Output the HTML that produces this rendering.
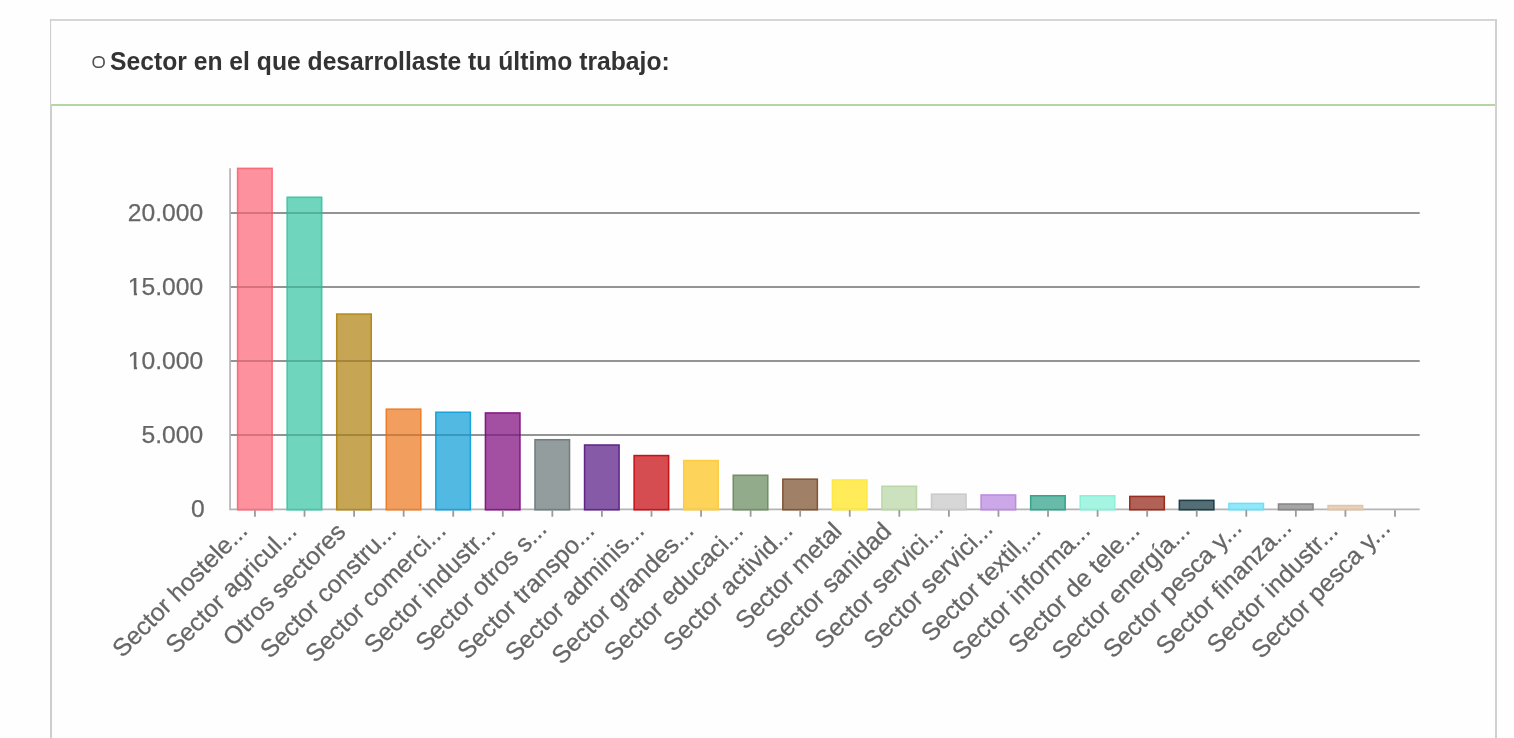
<!DOCTYPE html>
<html lang="es">
<head>
<meta charset="utf-8">
<title>Sector en el que desarrollaste tu último trabajo</title>
<style>
html,body{margin:0;padding:0;background:#fefefe;}
body{width:1514px;height:738px;overflow:hidden;position:relative;font-family:"Liberation Sans",sans-serif;}
svg{position:absolute;left:0;top:0;display:block;}
.t{font-family:"Liberation Sans",sans-serif;}
</style>
</head>
<body>
<svg width="1514" height="738" viewBox="0 0 1514 738" role="img" aria-label="Sector en el que desarrollaste tu último trabajo">
<g id="panel" fill="#cecece">
<rect x="50" y="19.15" width="1447" height="1.65"/>
<rect x="50" y="19.15" width="1.1" height="86.85"/>
<rect x="50" y="106" width="2.05" height="640"/>
<rect x="1495" y="19.15" width="2" height="730" fill="#d1d1d1"/>
<rect x="51.1" y="104" width="1443.9" height="2" fill="#b4d7a1"/>
</g>
<g id="title">
<rect x="93.25" y="56.85" width="10.8" height="10.4" rx="4.6" ry="4.6" fill="none" stroke="#505050" stroke-width="1.7"/>
<text class="t" transform="translate(110.0,70.3) scale(1,1.055)" font-size="24.7" font-weight="bold" fill="#333333">Sector en el que desarrollaste tu último trabajo:</text>
</g>
<g id="grid" stroke="#868686" stroke-width="1.6">
<line x1="230.07" y1="435" x2="1419.7" y2="435"/>
<line x1="230.07" y1="361" x2="1419.7" y2="361"/>
<line x1="230.07" y1="287" x2="1419.7" y2="287"/>
<line x1="230.07" y1="213" x2="1419.7" y2="213"/>
</g>
<g id="axes" stroke="#b4b4b4" stroke-width="1.7" fill="none">
<line x1="230.07" y1="168.2" x2="230.07" y2="510.15"/>
<line x1="230.07" y1="509.3" x2="1419.7" y2="509.3"/>
</g>
<g id="bars" stroke-width="1.55">
<rect x="237.60" y="168.38" width="34.50" height="341.43" fill="#FC7585" fill-opacity="0.8" stroke="#FB6C7B"/>
<rect x="287.17" y="197.28" width="34.50" height="312.52" fill="#4BCAAD" fill-opacity="0.8" stroke="#40C7A8"/>
<rect x="336.73" y="314.07" width="34.50" height="195.73" fill="#B8902B" fill-opacity="0.8" stroke="#B4891E"/>
<rect x="386.30" y="409.17" width="34.50" height="100.63" fill="#EF8636" fill-opacity="0.8" stroke="#EE7F2A"/>
<rect x="435.87" y="412.27" width="34.50" height="97.53" fill="#27A8DC" fill-opacity="0.8" stroke="#1AA3DA"/>
<rect x="485.44" y="412.97" width="34.50" height="96.83" fill="#8C248C" fill-opacity="0.8" stroke="#851785"/>
<rect x="535.00" y="439.73" width="34.50" height="70.07" fill="#798486" fill-opacity="0.8" stroke="#717D7F"/>
<rect x="584.57" y="445.01" width="34.50" height="64.79" fill="#693192" fill-opacity="0.8" stroke="#60258B"/>
<rect x="634.14" y="455.57" width="34.50" height="54.23" fill="#CA2024" fill-opacity="0.8" stroke="#C71317"/>
<rect x="683.70" y="460.57" width="34.50" height="49.23" fill="#FDC82F" fill-opacity="0.8" stroke="#FDCC45"/>
<rect x="733.27" y="475.27" width="34.50" height="34.53" fill="#77976E" fill-opacity="0.8" stroke="#6F9165"/>
<rect x="782.84" y="479.17" width="34.50" height="30.63" fill="#886041" fill-opacity="0.8" stroke="#815636"/>
<rect x="832.40" y="479.92" width="34.50" height="29.88" fill="#FFE72E" fill-opacity="0.8" stroke="#FFE845"/>
<rect x="881.97" y="486.27" width="34.50" height="23.53" fill="#BFD9AE" fill-opacity="0.8" stroke="#BBD7A9"/>
<rect x="931.54" y="494.17" width="34.50" height="15.63" fill="#CDCDCD" fill-opacity="0.8" stroke="#CACACA"/>
<rect x="981.11" y="494.97" width="34.50" height="14.83" fill="#C092E2" fill-opacity="0.8" stroke="#BC8BE0"/>
<rect x="1030.67" y="495.77" width="34.50" height="14.03" fill="#41AA92" fill-opacity="0.8" stroke="#36A58B"/>
<rect x="1080.24" y="495.77" width="34.50" height="14.03" fill="#90F1DB" fill-opacity="0.8" stroke="#89F0D9"/>
<rect x="1129.81" y="496.42" width="34.50" height="13.38" fill="#9F392D" fill-opacity="0.8" stroke="#992D20"/>
<rect x="1179.37" y="500.38" width="34.50" height="9.43" fill="#2A4A52" fill-opacity="0.8" stroke="#1D3F48"/>
<rect x="1228.94" y="503.42" width="34.50" height="6.38" fill="#75E2F9" fill-opacity="0.8" stroke="#6DE0F9"/>
<rect x="1278.51" y="504.02" width="34.50" height="5.78" fill="#8E8E8E" fill-opacity="0.8" stroke="#878787"/>
<rect x="1328.07" y="505.57" width="34.50" height="4.23" fill="#E2C7AE" fill-opacity="0.8" stroke="#E0C4A9"/>
</g>
<g id="grid2" stroke="#000000" stroke-opacity="0.13" stroke-width="1.6">
<line x1="230.92" y1="435" x2="1419.7" y2="435"/>
<line x1="230.92" y1="361" x2="1419.7" y2="361"/>
<line x1="230.92" y1="287" x2="1419.7" y2="287"/>
<line x1="230.92" y1="213" x2="1419.7" y2="213"/>
</g>
<g id="ticks" stroke="#9a9a9a" stroke-width="1.8">
<line x1="254.95" y1="510.15" x2="254.95" y2="516.70"/>
<line x1="304.52" y1="510.15" x2="304.52" y2="516.70"/>
<line x1="354.08" y1="510.15" x2="354.08" y2="516.70"/>
<line x1="403.65" y1="510.15" x2="403.65" y2="516.70"/>
<line x1="453.22" y1="510.15" x2="453.22" y2="516.70"/>
<line x1="502.79" y1="510.15" x2="502.79" y2="516.70"/>
<line x1="552.35" y1="510.15" x2="552.35" y2="516.70"/>
<line x1="601.92" y1="510.15" x2="601.92" y2="516.70"/>
<line x1="651.49" y1="510.15" x2="651.49" y2="516.70"/>
<line x1="701.05" y1="510.15" x2="701.05" y2="516.70"/>
<line x1="750.62" y1="510.15" x2="750.62" y2="516.70"/>
<line x1="800.19" y1="510.15" x2="800.19" y2="516.70"/>
<line x1="849.75" y1="510.15" x2="849.75" y2="516.70"/>
<line x1="899.32" y1="510.15" x2="899.32" y2="516.70"/>
<line x1="948.89" y1="510.15" x2="948.89" y2="516.70"/>
<line x1="998.46" y1="510.15" x2="998.46" y2="516.70"/>
<line x1="1048.02" y1="510.15" x2="1048.02" y2="516.70"/>
<line x1="1097.59" y1="510.15" x2="1097.59" y2="516.70"/>
<line x1="1147.16" y1="510.15" x2="1147.16" y2="516.70"/>
<line x1="1196.72" y1="510.15" x2="1196.72" y2="516.70"/>
<line x1="1246.29" y1="510.15" x2="1246.29" y2="516.70"/>
<line x1="1295.86" y1="510.15" x2="1295.86" y2="516.70"/>
<line x1="1345.42" y1="510.15" x2="1345.42" y2="516.70"/>
<line x1="1394.99" y1="510.15" x2="1394.99" y2="516.70"/>
</g>
<g id="ylabels" class="t" font-size="24.65" fill="#666666" stroke="#666666" stroke-width="0.25" text-anchor="end">
<text x="204.7" y="517">0</text>
<text x="203.1" y="443">5.000</text>
<text x="203.1" y="369">10.000</text>
<text x="203.1" y="295">15.000</text>
<text x="203.1" y="221">20.000</text>
</g>
<g id="ymask" fill="#fefefe">
<rect x="128" y="292.3" width="5.85" height="4.2"/>
<rect x="137.05" y="292.3" width="4.5" height="4.2"/>
<rect x="128" y="366.3" width="5.85" height="4.2"/>
<rect x="137.05" y="366.3" width="4.5" height="4.2"/>
</g>
<g id="xlabels" class="t" font-size="24.75" fill="#666666" stroke="#666666" stroke-width="0.25" text-anchor="end">
<text transform="translate(248.99,532.15) rotate(-45)" textLength="178.86" lengthAdjust="spacing">Sector hostele...</text>
<text transform="translate(298.13,532.57) rotate(-45)" textLength="172.95" lengthAdjust="spacing">Sector agricul...</text>
<text transform="translate(347.06,533.21) rotate(-45)" textLength="161.24" lengthAdjust="spacing">Otros sectores</text>
<text transform="translate(397.69,532.15) rotate(-45)" textLength="180.20" lengthAdjust="spacing">Sector constru...</text>
<text transform="translate(447.26,532.15) rotate(-45)" textLength="186.19" lengthAdjust="spacing">Sector comerci...</text>
<text transform="translate(496.82,532.15) rotate(-45)" textLength="173.37" lengthAdjust="spacing">Sector industr...</text>
<text transform="translate(548.23,530.31) rotate(-45)" textLength="173.31" lengthAdjust="spacing">Sector otros s...</text>
<text transform="translate(595.96,532.15) rotate(-45)" textLength="181.59" lengthAdjust="spacing">Sector transpo...</text>
<text transform="translate(645.53,532.15) rotate(-45)" textLength="184.33" lengthAdjust="spacing">Sector adminis...</text>
<text transform="translate(695.09,532.15) rotate(-45)" textLength="188.48" lengthAdjust="spacing">Sector grandes...</text>
<text transform="translate(744.66,532.15) rotate(-45)" textLength="184.36" lengthAdjust="spacing">Sector educaci...</text>
<text transform="translate(794.23,532.15) rotate(-45)" textLength="170.60" lengthAdjust="spacing">Sector activid...</text>
<text transform="translate(843.23,532.72) rotate(-45)" textLength="138.14" lengthAdjust="spacing">Sector metal</text>
<text transform="translate(892.80,532.72) rotate(-45)" textLength="165.71" lengthAdjust="spacing">Sector sanidad</text>
<text transform="translate(944.63,530.45) rotate(-45)" textLength="169.37" lengthAdjust="spacing">Sector servici...</text>
<text transform="translate(994.19,530.45) rotate(-45)" textLength="170.17" lengthAdjust="spacing">Sector servici...</text>
<text transform="translate(1042.06,532.15) rotate(-45)" textLength="156.81" lengthAdjust="spacing">Sector textil,...</text>
<text transform="translate(1091.63,532.15) rotate(-45)" textLength="182.98" lengthAdjust="spacing">Sector informa...</text>
<text transform="translate(1141.20,532.15) rotate(-45)" textLength="173.36" lengthAdjust="spacing">Sector de tele...</text>
<text transform="translate(1191.26,531.66) rotate(-45)" textLength="182.83" lengthAdjust="spacing">Sector energía...</text>
<text transform="translate(1243.16,529.32) rotate(-45)" textLength="183.70" lengthAdjust="spacing">Sector pesca y...</text>
<text transform="translate(1292.94,529.11) rotate(-45)" textLength="179.56" lengthAdjust="spacing">Sector finanza...</text>
<text transform="translate(1339.46,532.15) rotate(-45)" textLength="173.07" lengthAdjust="spacing">Sector industr...</text>
<text transform="translate(1391.51,529.68) rotate(-45)" textLength="184.00" lengthAdjust="spacing">Sector pesca y...</text>
</g>
</svg>
</body>
</html>
